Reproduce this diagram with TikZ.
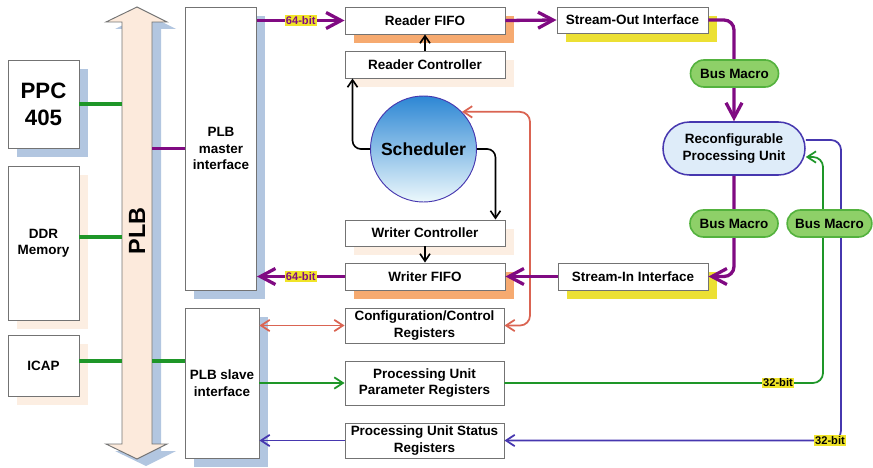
\documentclass[tikz,border=0pt]{standalone}
\usepackage{fontspec}
\setmainfont{Liberation Sans}
\usetikzlibrary{positioning,arrows.meta,shapes.misc,shadows}
\definecolor{plbpurple}{RGB}{128,10,130}
\definecolor{linkgreen}{RGB}{30,150,40}
\definecolor{ctrlred}{RGB}{218,100,82}
\definecolor{statblue}{RGB}{70,55,175}
\definecolor{edgegrey}{RGB}{115,115,115}
\definecolor{shadeblue}{RGB}{178,198,224}
\definecolor{shadeorange}{RGB}{246,170,112}
\definecolor{shadepeach}{RGB}{252,238,226}
\definecolor{shadeyellow}{RGB}{236,224,52}
\definecolor{plbfill}{RGB}{252,234,220}
\definecolor{macrofill}{RGB}{142,208,104}
\definecolor{macroedge}{RGB}{84,178,62}
\definecolor{rpufill}{RGB}{222,236,249}
\definecolor{labyellow}{RGB}{240,228,40}
\definecolor{schedtop}{RGB}{45,135,212}
\definecolor{schedmid}{RGB}{140,205,236}
\definecolor{schedbot}{RGB}{236,248,252}
\tikzset{
  blk/.style={draw=edgegrey,fill=white,line width=0.8pt,inner sep=0pt,align=center,
              font=\bfseries\fontsize{11.5}{14}\selectfont},
  boxshadow/.style={drop shadow={shadow xshift=2.6mm,shadow yshift=-2.6mm,fill=#1,opacity=1}},
  plbbar/.style={draw=edgegrey,fill=plbfill,line width=0.8pt,
                 drop shadow={shadow xshift=2.7mm,shadow yshift=-2.1mm,fill=shadeblue,opacity=1}},
  sched/.style={circle,draw=statblue,line width=0.8pt,minimum size=31.8mm,inner sep=0pt,
                top color=schedtop,middle color=schedmid,bottom color=schedbot,
                font=\bfseries\fontsize{15}{15}\selectfont},
  rpu/.style={rounded rectangle,draw=statblue,fill=rpufill,line width=1.3pt,align=center,
              minimum width=42.6mm,minimum height=15.9mm,inner sep=0pt,
              font=\bfseries\fontsize{11.5}{14}\selectfont},
  macro/.style={rounded rectangle,draw=macroedge,fill=macrofill,line width=1.4pt,
                minimum width=26.4mm,minimum height=8.1mm,inner sep=0pt,
                font=\bfseries\fontsize{11.5}{14}\selectfont},
  bitlab/.style={fill=labyellow,inner sep=0.8pt,font=\bfseries\fontsize{9.5}{10}\selectfont},
  wire/.style={line width=2.6pt,linkgreen},
  bus/.style={line width=2.8pt,plbpurple,-{Straight Barb[length=4.5mm,width=4.8mm]}},
  ctl/.style={line width=1.4pt,black,-{Straight Barb[length=2.2mm,width=3mm]}},
  reg/.style={line width=1.5pt,-{Straight Barb[length=2.6mm,width=3.4mm]}}
}
\begin{document}
\begin{tikzpicture}[x=0.3mm,y=-0.3mm]
    \useasboundingbox (0,0) rectangle (873,468);
    % --- PLB bus
    \draw[plbbar] (137,7) -- (167,22) -- (152,22) -- (152,444) -- (167,444) -- (137,459)
      -- (106,444) -- (122,444) -- (122,22) -- (106,22) -- cycle;
    \node[inner sep=0pt,minimum width=9mm,minimum height=126.6mm] (plb) at (137,233) {};
    \node[rotate=90,font=\bfseries\fontsize{20}{20}\selectfont] (plbname) at (137,231) {PLB};
    % --- left column
    \node[blk,boxshadow=shadeblue,minimum width=21.3mm,minimum height=26.4mm,
          font=\bfseries\fontsize{19}{23}\selectfont] (ppc) at (43.5,104) {PPC\\405};
    \node[blk,boxshadow=shadepeach,minimum width=21.3mm,minimum height=46.2mm] (ddr) at (43.5,243) {DDR\\Memory};
    \node[blk,boxshadow=shadepeach,minimum width=21.3mm,minimum height=18.3mm] (icap) at (43.5,365.5) {ICAP};
    \node[blk,boxshadow=shadeblue,minimum width=21.3mm,minimum height=84.9mm] (master) at (221,148.5) {PLB\\master\\interface};
    \node[blk,boxshadow=shadeblue,minimum width=22.2mm,minimum height=45mm] (slave) at (222,383) {PLB slave\\interface};
    % --- middle column
    \node[blk,boxshadow=shadeorange,minimum width=48mm,minimum height=8.1mm] (rfifo) at (425,20.5) {Reader FIFO};
    \node[blk,boxshadow=shadepeach,minimum width=48mm,minimum height=8.1mm] (rctrl) at (425,64.5) {Reader Controller};
    \node[sched] (sch) at (423.5,149) {Scheduler};
    \node[blk,boxshadow=shadepeach,minimum width=48mm,minimum height=7.8mm] (wctrl) at (425,233) {Writer Controller};
    \node[blk,boxshadow=shadeorange,minimum width=48mm,minimum height=8.1mm] (wfifo) at (425,276.5) {Writer FIFO};
    \node[blk,minimum width=47.7mm,minimum height=10.5mm] (cfg) at (424.5,325.5) {Configuration/Control\\Registers};
    \node[blk,minimum width=47.7mm,minimum height=13.2mm] (param) at (424.5,383) {Processing Unit\\Parameter Registers};
    \node[blk,minimum width=47.7mm,minimum height=10.5mm] (status) at (424.5,440.5) {Processing Unit Status\\Registers};
    % --- right column
    \node[blk,boxshadow=shadeyellow,minimum width=45.3mm,minimum height=7.8mm] (sout) at (632.5,20) {Stream-Out Interface};
    \node[blk,boxshadow=shadeyellow,minimum width=45mm,minimum height=8.1mm] (sin) at (633,276.5) {Stream-In Interface};
    \node[rpu] (pu) at (734,148.5) {Reconfigurable\\Processing Unit};
    % --- bus attachments
    \coordinate (icapy) at (0,361);
    \draw[wire] (ppc.east) -- (ppc.east -| plb.west);
    \draw[wire] ([yshift=1.8mm]ddr.east) -- ([yshift=1.8mm]ddr.east -| plb.west);
    \draw[wire] (icapy -| icap.east) -- (icapy -| plb.west);
    \draw[wire] (icapy -| plb.east) -- (icapy -| slave.west);
    \draw[wire,plbpurple] (master.west) -- (master.west -| plb.east);
    % --- control and registers
    \coordinate (cfgturn) at (530,0);
    \coordinate (gturn) at (823,157);
    \coordinate (bturn) at (841,140);
    \draw[ctl] (rctrl.north) -- (rfifo.south);
    \draw[ctl,rounded corners=2.5mm] (sch.west) -| ([xshift=2.4mm]rctrl.south west);
    \draw[ctl,rounded corners=2.5mm] (sch.east) -| ([xshift=-3mm]wctrl.north east);
    \draw[ctl] (wctrl.south) -- (wfifo.north);
    \draw[reg,ctrlred,{Straight Barb[length=2.6mm,width=3.4mm]}-{Straight Barb[length=2.6mm,width=3.4mm]},
          rounded corners=3mm] (sch.44) -| (cfgturn |- cfg.east) -- (cfg.east);
    \draw[reg,ctrlred,{Straight Barb[length=2.6mm,width=3.4mm]}-{Straight Barb[length=2.6mm,width=3.4mm]}]
      (cfg.west -| slave.east) -- (cfg.west);
    \draw[reg,linkgreen] (param.west -| slave.east) -- (param.west);
    \draw[reg,statblue] (status.west) -- (status.west -| slave.east);
    \draw[reg,linkgreen,rounded corners=3mm] (param.east) -| (gturn) -- (gturn -| pu.east);
    \draw[reg,statblue,rounded corners=3mm] (bturn -| pu.east) -- (bturn) |- (status.east);
    % --- data streams
    \draw[bus] (rfifo.west -| master.east) -- node[bitlab] (b64r) {64-bit} (rfifo.west);
    \draw[bus] (wfifo.west) -- node[bitlab] (b64w) {64-bit} (wfifo.west -| master.east);
    \draw[bus] (rfifo.east) -- (sout.west);
    \draw[bus,rounded corners=3mm] (sout.east) -| (pu.north);
    \draw[bus,rounded corners=3mm] (pu.south) |- (sin.east);
    \draw[bus] (sin.west) -- (wfifo.east);
    % --- bus macros
    \node[macro] (bm1) at (734.5,73.5) {Bus Macro};
    \node[macro] (bm2) at (734,223.5) {Bus Macro};
    \node[macro,minimum width=25.4mm] (bm3) at (829.5,223.5) {Bus Macro};
    \node[bitlab] (b32g) at (778,383) {32-bit};
    \node[bitlab] (b32s) at (830,440.5) {32-bit};
\end{tikzpicture}
\end{document}
